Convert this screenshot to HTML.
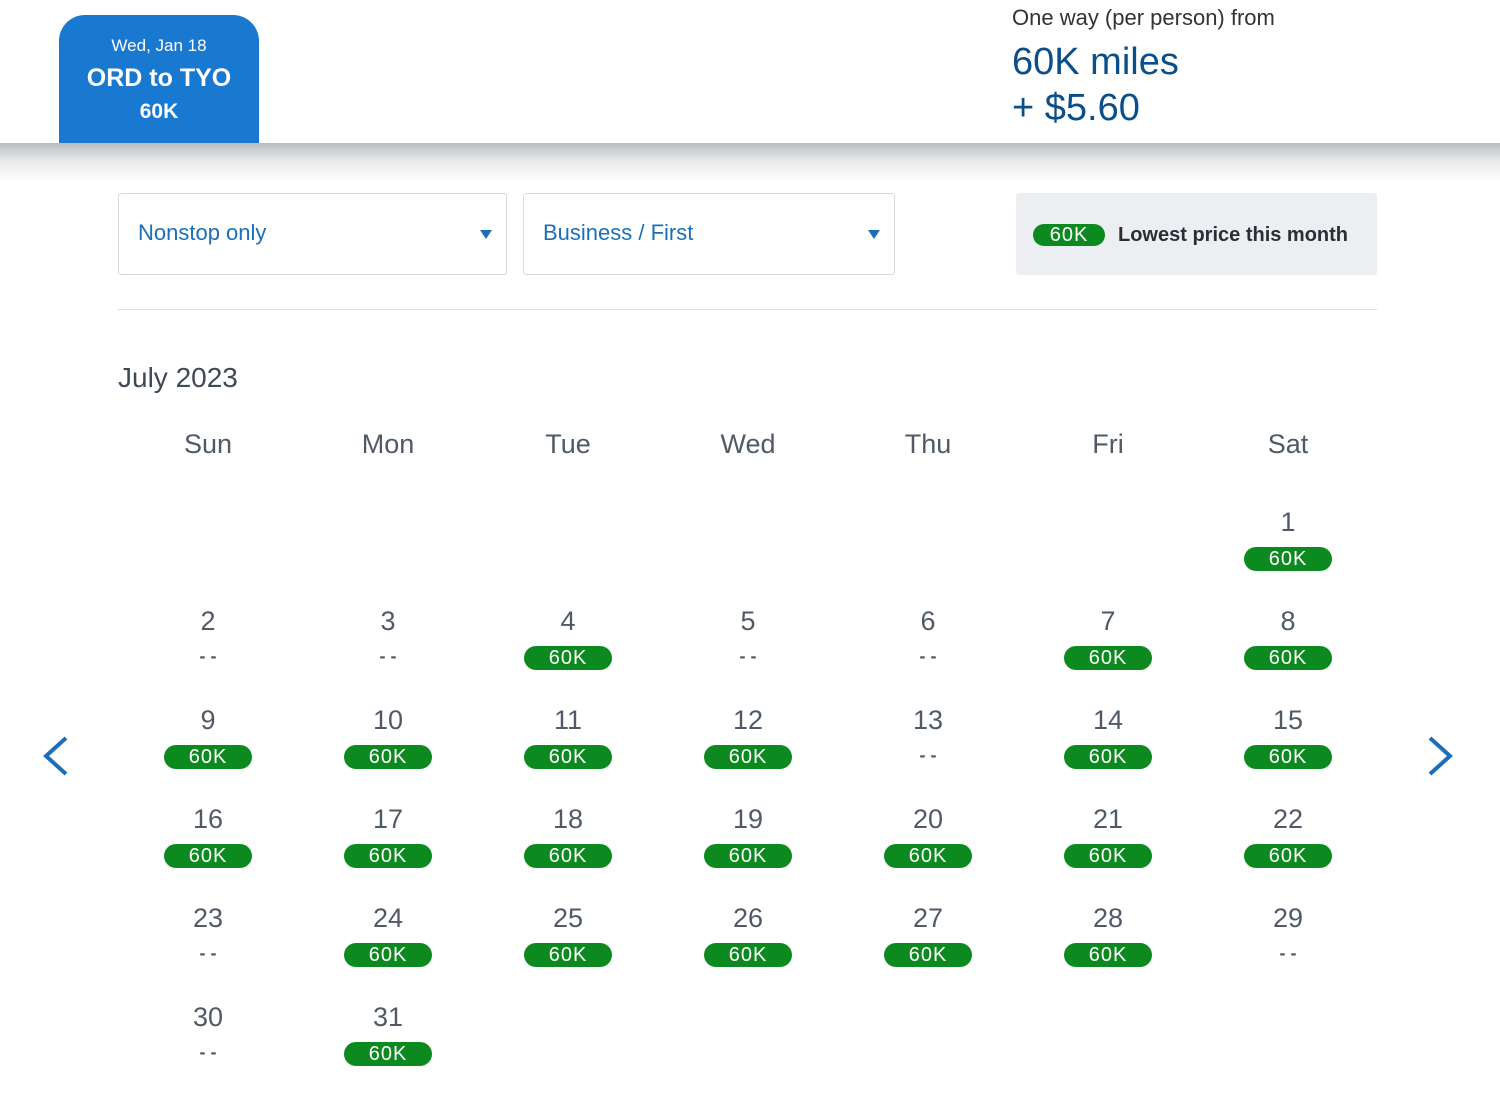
<!DOCTYPE html>
<html><head><meta charset="utf-8"><style>
*{margin:0;padding:0;box-sizing:border-box}
body{width:1500px;height:1109px;position:relative;background:#fff;font-family:"Liberation Sans",sans-serif;overflow:hidden}
.abs{position:absolute}
.shadow{left:0;top:143px;width:1500px;height:40px;background:linear-gradient(#b9bcc0,#e9eaec 45%,#fff)}
.tab{left:59px;top:15px;width:200px;height:128px;background:#1978d0;border-radius:26px 26px 0 0;color:#fff;text-align:center}
.dd{top:193px;height:82px;border:1px solid #d6d9dd;border-radius:3px;color:#1b6fba;font-size:22px;line-height:78px;padding-left:19px}
.caret{position:absolute;right:14px;top:36px;width:0;height:0;border-left:6px solid transparent;border-right:6px solid transparent;border-top:9px solid #1b6fba}
.pill{position:absolute;width:88px;height:24px;border-radius:12px;background:#0d8a1f;color:#fff;font-size:20px;line-height:24px;text-align:center;letter-spacing:1px}
.txt{position:absolute;text-align:center;width:120px;color:#4f5a66;font-size:27px}
</style></head><body>
<div class="abs tab">
 <div style="margin-top:21px;font-size:17px">Wed, Jan 18</div>
 <div style="margin-top:8px;font-size:25px;font-weight:bold">ORD to TYO</div>
 <div style="margin-top:7px;font-size:21px;font-weight:bold">60K</div>
</div>
<div class="abs" style="left:1012px;top:5px;font-size:22px;color:#333">One way (per person) from</div>
<div class="abs" style="left:1012px;top:39px;font-size:38px;color:#0b4f8a;line-height:46px">60K miles<br>+ $5.60</div>
<div class="abs shadow"></div>
<div class="abs dd" style="left:118px;width:389px">Nonstop only<span class="caret"></span></div>
<div class="abs dd" style="left:523px;width:372px">Business / First<span class="caret"></span></div>
<div class="abs" style="left:1016px;top:193px;width:361px;height:82px;background:#eceef1;border-radius:3px">
 <div class="pill" style="left:17px;top:31px;width:72px;height:22px;line-height:22px">60K</div>
 <div class="abs" style="left:102px;top:31px;font-size:20px;color:#2a2f35;font-weight:bold">Lowest price this month</div>
</div>
<div class="abs" style="left:118px;top:309px;width:1259px;height:1px;background:#dcdfe3"></div>
<div class="abs" style="left:118px;top:362px;font-size:28px;color:#3d4a57">July 2023</div>
<svg class="abs" style="left:40px;top:734px" width="32" height="44"><polyline points="26,4 6,22 26,40" fill="none" stroke="#1b6fba" stroke-width="4"/></svg>
<svg class="abs" style="left:1424px;top:734px" width="32" height="44"><polyline points="6,4 26,22 6,40" fill="none" stroke="#1b6fba" stroke-width="4"/></svg>
<div id="cal"></div>
<script>
const weekdays=["Sun","Mon","Tue","Wed","Thu","Fri","Sat"];
const firstWeekday=6;
const prices=["60K","--","--","60K","--","--","60K","60K","60K","60K","60K","60K","--","60K","60K","60K","60K","60K","60K","60K","60K","60K","--","60K","60K","60K","60K","60K","--","--","60K"];
const cal=document.getElementById('cal');
const colX=i=>208+i*180, rowY=r=>522+r*99;
weekdays.forEach((w,i)=>{
 const d=document.createElement('div');d.className='txt';d.textContent=w;
 
 
 d.style.left=(colX(i)-60)+'px';d.style.top='429px';cal.appendChild(d);
});
prices.forEach((p,k)=>{
 const idx=k+firstWeekday,c=idx%7,r=Math.floor(idx/7),x=colX(c),y=rowY(r);
 const n=document.createElement('div');n.className='txt';n.textContent=k+1;
 
 
 n.style.left=(x-60)+'px';n.style.top=(y-15)+'px';cal.appendChild(n);
 if(p==='--'){
  const s=document.createElement('div');s.className='txt';s.textContent='- -';s.style.fontSize='18px';s.style.fontWeight='bold';
  
  
  s.style.left=(x-60)+'px';s.style.top=(y+25)+'px';cal.appendChild(s);
 }else{
  const s=document.createElement('div');s.className='pill';s.textContent=p;
  
  
  s.style.left=(x-44)+'px';s.style.top=(y+25)+'px';cal.appendChild(s);
 }
});
</script>
</body></html>
